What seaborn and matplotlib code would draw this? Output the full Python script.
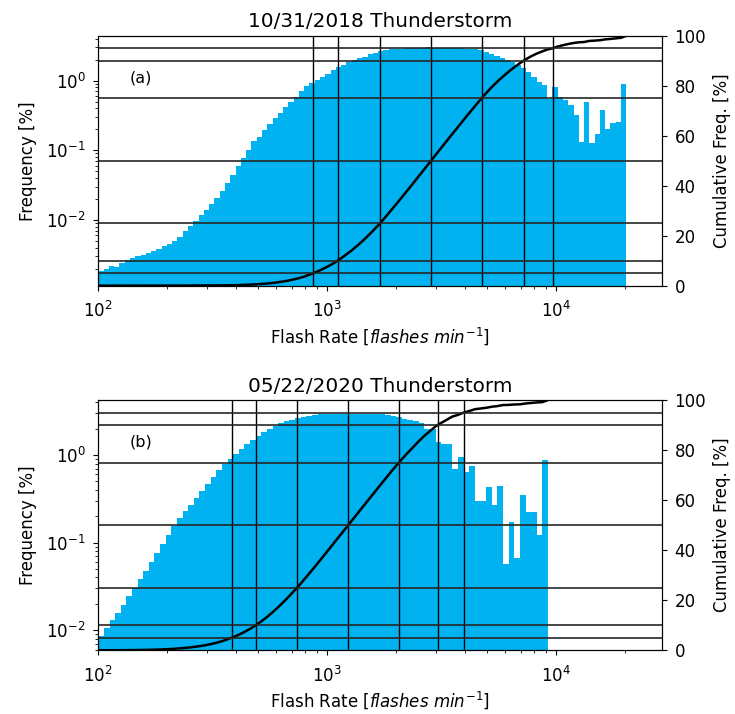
import matplotlib

matplotlib.use("Agg")
import matplotlib.pyplot as plt
import numpy as np
import pandas as pd
import seaborn as sns

# Flash-rate bins, given as log10(flashes/min) edges, and per-bin frequency [%]
bins_a = np.linspace(2.0, 4.307, 101)
freq_a = [
    0.00186, 0.00195, 0.00219, 0.00214, 0.00240, 0.00269, 0.00282, 0.00302, 0.00316, 0.00339,
    0.00363, 0.00389, 0.00417, 0.00457, 0.00501, 0.00575, 0.00692, 0.00832, 0.00977, 0.0117,
    0.0138, 0.0170, 0.0209, 0.0257, 0.0339, 0.0447, 0.0589, 0.0776, 0.102, 0.135,
    0.155, 0.195, 0.240, 0.295, 0.347, 0.417, 0.490, 0.589, 0.708, 0.832,
    0.933, 1.02, 1.12, 1.26, 1.41, 1.58, 1.70, 1.82, 1.95, 2.09,
    2.21, 2.37, 2.51, 2.63, 2.75, 2.82, 2.85, 2.88, 2.92, 2.95,
    2.95, 2.95, 2.99, 2.95, 2.95, 2.95, 2.95, 2.92, 2.92, 2.88,
    2.85, 2.82, 2.75, 2.57, 2.40, 2.24, 2.09, 1.95, 1.82, 1.66,
    1.51, 1.35, 1.12, 0.955, 0.871, 0.550, 0.813, 0.589, 0.525, 0.447,
    0.316, 0.132, 0.490, 0.126, 0.174, 0.380, 0.204, 0.245, 0.257, 0.900,
]

bins_b = np.linspace(2.0, 3.965, 81)
freq_b = [
    0.00851, 0.0107, 0.0132, 0.0158, 0.0195, 0.0245, 0.0302, 0.0380, 0.0479, 0.0603,
    0.0759, 0.0977, 0.123, 0.155, 0.191, 0.229, 0.269, 0.324, 0.389, 0.468,
    0.562, 0.676, 0.794, 0.891, 1.02, 1.16, 1.32, 1.48, 1.66, 1.82,
    2.00, 2.14, 2.29, 2.43, 2.54, 2.63, 2.75, 2.82, 2.88, 2.92,
    2.95, 2.97, 2.95, 2.93, 2.95, 2.97, 2.95, 2.95, 2.93, 2.95,
    2.92, 2.90, 2.82, 2.69, 2.57, 2.51, 2.45, 2.29, 2.00, 2.00,
    1.41, 1.35, 1.35, 0.700, 0.955, 0.646, 0.759, 0.302, 0.302, 0.437,
    0.269, 0.447, 0.0575, 0.174, 0.0661, 0.347, 0.224, 0.224, 0.123, 0.871,
]

titles = ["10/31/2018 Thunderstorm", "05/22/2020 Thunderstorm"]
panel_tags = ["(a)", "(b)"]
freq_limits = [(0.00114, 4.4), (0.0059, 4.24)]
pct_levels = [5, 10, 25, 50, 75, 90, 95]
cum_ticks = [0, 20, 40, 60, 80, 100]

BAR_COLOR = "#00b2f0"


def draw_panel(ax, log_edges, freq, title, tag, ylim):
    log_edges = np.asarray(log_edges)
    freq = np.asarray(freq)
    df = pd.DataFrame(
        {"rate": 10 ** ((log_edges[:-1] + log_edges[1:]) / 2), "freq": freq}
    )

    # histogram of the flash-rate distribution (bins are in log10 space)
    sns.histplot(
        data=df, x="rate", weights="freq", bins=list(log_edges), log_scale=True,
        element="step", fill=True, color=BAR_COLOR, alpha=1, linewidth=0, ax=ax,
    )
    ax.set_yscale("log")
    ax.set_ylim(*ylim)

    # cumulative frequency on the right axis
    cum = np.concatenate([[0.0], np.cumsum(freq)])
    cum_pct = 100 * cum / cum[-1]
    ax2 = ax.twinx()
    sns.lineplot(x=10 ** log_edges, y=cum_pct, ax=ax2, color="k", linewidth=1.8)
    for p in pct_levels:
        ax2.axhline(p, color="0.15", linewidth=1.2)
    pct_x = 10 ** np.interp(pct_levels, cum_pct, log_edges)
    for x in pct_x:
        ax.axvline(x, color="k", linewidth=1.0)

    ax2.set_ylim(0, 100)
    ax2.set_yticks(cum_ticks)
    ax2.set_ylabel("Cumulative Freq. [%]", fontsize=12, labelpad=5)
    ax2.tick_params(labelsize=12, pad=5.5)

    ax.set_xlim(100, 10 ** 4.463)
    ax.set_title(title, fontsize=14.4)
    ax.set_xlabel(r"Flash Rate [$\it{flashes}$ $\it{min}^{-1}$]", fontsize=12, labelpad=3)
    ax.set_ylabel("Frequency [%]", fontsize=12, labelpad=7)
    ax.tick_params(axis="x", labelsize=12, pad=7.5)
    ax.tick_params(axis="y", labelsize=12, pad=5.5)
    ax.text(0.076, 0.832, tag, transform=ax.transAxes, ha="center", va="center", fontsize=11.5)
    return ax2


fig = plt.figure(figsize=(7.35, 7.14), dpi=100)
ax_a = fig.add_axes([0.1337, 0.5999, 0.767, 0.350])
ax_b = fig.add_axes([0.1337, 0.0892, 0.767, 0.3505])

draw_panel(ax_a, bins_a, freq_a, titles[0], panel_tags[0], freq_limits[0])
draw_panel(ax_b, bins_b, freq_b, titles[1], panel_tags[1], freq_limits[1])

fig.savefig("out.png", dpi=100)
plt.close(fig)
